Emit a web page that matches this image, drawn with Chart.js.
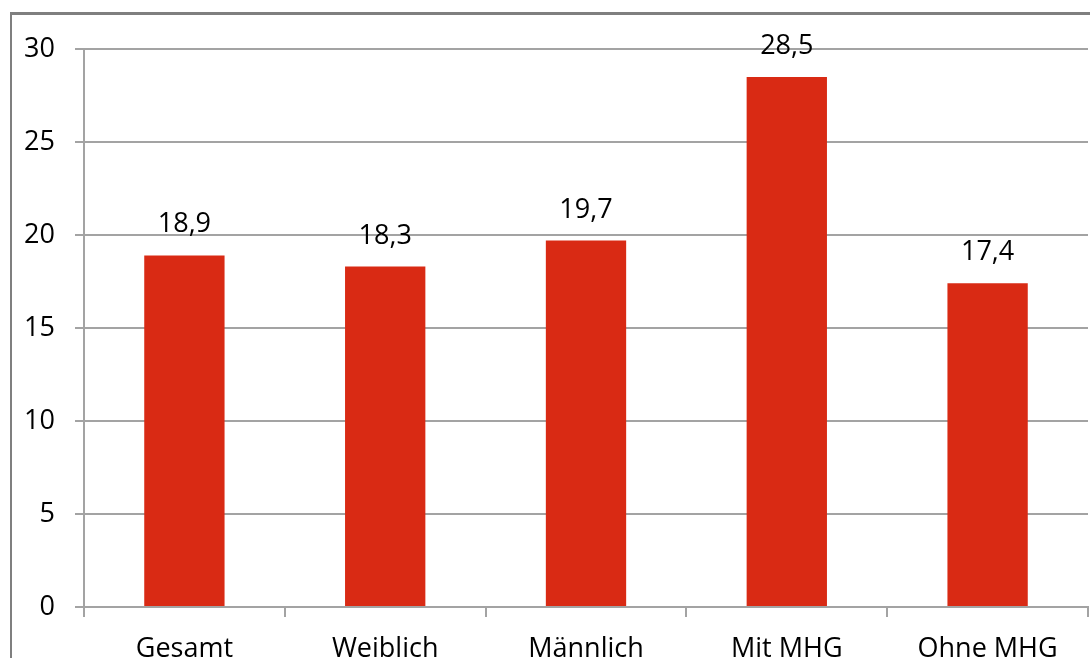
<!DOCTYPE html>
<html lang="de">
<head>
<meta charset="utf-8">
<title>Anteil nach Gruppe</title>
<script src="https://cdn.jsdelivr.net/npm/chart.js@4"></script>
<style>
  html, body { margin: 0; padding: 0; background: #fff; }
  #wrap { position: relative; width: 1090px; height: 658px; overflow: hidden; }
  #frame {
    position: absolute; left: 10px; top: 12px; width: 1100px; height: 700px;
    border-top: 3px solid #7f7f7f; border-left: 2px solid #7f7f7f;
    pointer-events: none;
  }
  canvas { position: absolute; left: 0; top: 0; }
</style>
</head>
<body>
<div id="wrap">
  <canvas id="bars" width="1090" height="658"></canvas>
  <div id="frame"></div>
</div>
<script>
// Daten
const categories = ["Gesamt", "Weiblich", "Männlich", "Mit MHG", "Ohne MHG"];
const values = [18.9, 18.3, 19.7, 28.5, 17.4];
const yTicks = [0, 5, 10, 15, 20, 25, 30];

const barColor = "#d92a14";
const gridColor = "#a3a3a3";
const fontFamily = "'Open Sans', 'Noto Sans', sans-serif";
const fontSize = 27;

// Zahlen mit Komma anzeigen
function fmt(v){
  return v.toFixed(1).replace(".", ",");
}

// Werte ueber den Balken schreiben
const valueLabels = {
  id: "valueLabels",
  afterDatasetsDraw(chart){
    const ctx = chart.ctx;
    const meta = chart.getDatasetMeta(0);
    ctx.save();
    ctx.font = fontSize + "px " + fontFamily;
    ctx.fillStyle = "#000";
    ctx.textAlign = "center";
    ctx.textBaseline = "alphabetic";
    meta.data.forEach(function(bar, i){
      ctx.fillText(fmt(values[i]), bar.x, bar.y - 23);
    });
    ctx.restore();
  }
};

const MyChart = new Chart("bars", {
  type: "bar",
  data: {
    labels: categories,
    datasets: [{
      data: values,
      backgroundColor: barColor,
      borderWidth: 0,
      barPercentage: 0.4,
      categoryPercentage: 1.0
    }]
  },
  options: {
    responsive: false,
    animation: false,
    events: [],
    layout: { padding: { left: 0, top: 49, right: 2, bottom: 0 } },
    plugins: {
      legend: { display: false },
      tooltip: { enabled: false }
    },
    scales: {
      x: {
        grid: {
          offset: true,
          drawOnChartArea: false,
          drawTicks: true,
          tickLength: 10,
          color: gridColor,
          lineWidth: 2
        },
        border: { color: gridColor, width: 2 },
        ticks: {
          color: "#000",
          padding: 16,
          maxRotation: 0,
          font: { family: fontFamily, size: fontSize }
        },
        afterFit(scale){ scale.height = 51; }
      },
      y: {
        min: 0,
        max: 30,
        afterBuildTicks(scale){
          scale.ticks = yTicks.map(v => ({ value: v }));
        },
        grid: {
          color: gridColor,
          lineWidth: 2,
          tickLength: 9
        },
        border: { color: gridColor, width: 2 },
        ticks: {
          color: "#000",
          padding: 20,
          font: { family: fontFamily, size: fontSize }
        },
        afterFit(scale){ scale.width = 84; }
      }
    }
  },
  plugins: [valueLabels]
});
</script>
</body>
</html>
